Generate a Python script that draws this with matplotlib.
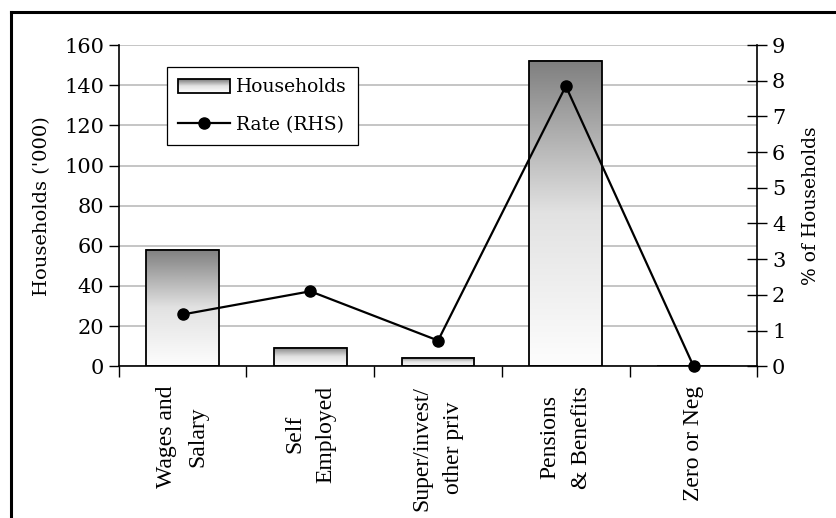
import numpy as np
import matplotlib
matplotlib.use('Agg')
import matplotlib.pyplot as plt
from matplotlib.colors import LinearSegmentedColormap
from matplotlib.lines import Line2D
from matplotlib.patches import Rectangle
from matplotlib.legend_handler import HandlerBase

categories = ['Wages and\nSalary', 'Self\nEmployed', 'Super/invest/\nother priv',
              'Pensions\n& Benefits', 'Zero or Neg']
households = [58, 9, 4, 152, 0]          # '000
rate_rhs = [1.45, 2.1, 0.72, 7.85, 0.0]  # % of households

plt.rcParams['font.family'] = 'DejaVu Serif'
plt.rcParams['font.size'] = 14

grad_cmap = LinearSegmentedColormap.from_list('bar_grad', ['#fdfdfd', '#e2e2e2', '#7f7f7f'])
grad = np.linspace(0, 1, 256).reshape(-1, 1)

fig = plt.figure(figsize=(8.36, 5.18), dpi=100)
ax = fig.add_axes([0.142, 0.293, 0.764, 0.620])

x = np.arange(len(categories))
bw = 0.57

ax.set_axisbelow(True)
ax.yaxis.grid(True, color='#c0c0c0', linewidth=1.3)
for xi, h in zip(x, households):
    if h <= 0:
        continue
    ax.imshow(grad, extent=[xi - bw / 2, xi + bw / 2, 0, h], origin='lower',
              cmap=grad_cmap, aspect='auto', interpolation='bilinear', zorder=2)
bars = ax.bar(x, households, width=bw, facecolor='none', edgecolor='black',
              linewidth=1.3, zorder=3)

ax.set_xlim(-0.5, len(categories) - 0.5)
ax.set_ylim(0, 160)
ax.set_yticks(np.arange(0, 161, 20))
ax.set_ylabel("Households ('000)", labelpad=9)
ax.set_xticks(x)
ax.set_xticklabels(categories, rotation=90, linespacing=1.65,
                   family='Liberation Serif', fontsize=17)
ax.tick_params(axis='x', length=0, pad=14)
ax.set_xticks(np.arange(-0.5, len(categories), 1.0), minor=True)
ax.tick_params(axis='x', which='minor', length=8, width=1, direction='out')
ax.tick_params(axis='y', length=7, width=1, direction='out', labelsize=15)
ax.spines['top'].set_visible(False)
ax.spines['right'].set_visible(False)
for s in ('left', 'bottom'):
    ax.spines[s].set_linewidth(1.2)

ax2 = ax.twinx()
ax2.plot(x, rate_rhs, color='black', linewidth=1.6, marker='o', markersize=8,
         clip_on=False, zorder=5)
ax2.set_ylim(0, 9)
ax2.set_yticks(np.arange(0, 10, 1))
ax2.set_ylabel('% of Households', labelpad=12, fontsize=13.5)
ax2.tick_params(axis='y', length=14, width=1, direction='inout', labelsize=15)
ax2.spines['top'].set_visible(False)
ax2.spines['left'].set_visible(False)
ax2.spines['bottom'].set_visible(False)
ax2.spines['right'].set_linewidth(1.2)


class GradientBoxHandler(HandlerBase):
    def create_artists(self, legend, orig_handle, xdescent, ydescent,
                       width, height, fontsize, trans):
        artists = []
        n = 14
        for i in range(n):
            c = grad_cmap(1 - i / (n - 1))
            r = Rectangle((-xdescent, -ydescent + height * (1 - (i + 1) / n)),
                          width, height / n, facecolor=c, edgecolor='none',
                          transform=trans)
            artists.append(r)
        artists.append(Rectangle((-xdescent, -ydescent), width, height,
                                 facecolor='none', edgecolor='black',
                                 linewidth=1.3, transform=trans))
        return artists


bar_handle = Rectangle((0, 0), 1, 1)
line_handle = Line2D([], [], color='black', linewidth=1.6, marker='o', markersize=8)
leg = ax2.legend([bar_handle, line_handle], ['Households', 'Rate (RHS)'],
                 handler_map={Rectangle: GradientBoxHandler()},
                 loc='upper left', bbox_to_anchor=(0.075, 0.931), borderaxespad=0,
                 fancybox=False, edgecolor='black', framealpha=1,
                 fontsize=13.5, handlelength=2.8, handleheight=0.75,
                 handletextpad=0.3, borderpad=0.6, labelspacing=1.05)
leg.get_frame().set_linewidth(0.9)

# frame lines along the top and left of the figure
fig.add_artist(Line2D([11 / 836, 1], [1 - 12 / 518, 1 - 12 / 518],
                      transform=fig.transFigure, color='black', linewidth=2.2))
fig.add_artist(Line2D([11 / 836, 11 / 836], [0, 1 - 12 / 518],
                      transform=fig.transFigure, color='black', linewidth=2.2))

fig.savefig('out.png', dpi=100)
